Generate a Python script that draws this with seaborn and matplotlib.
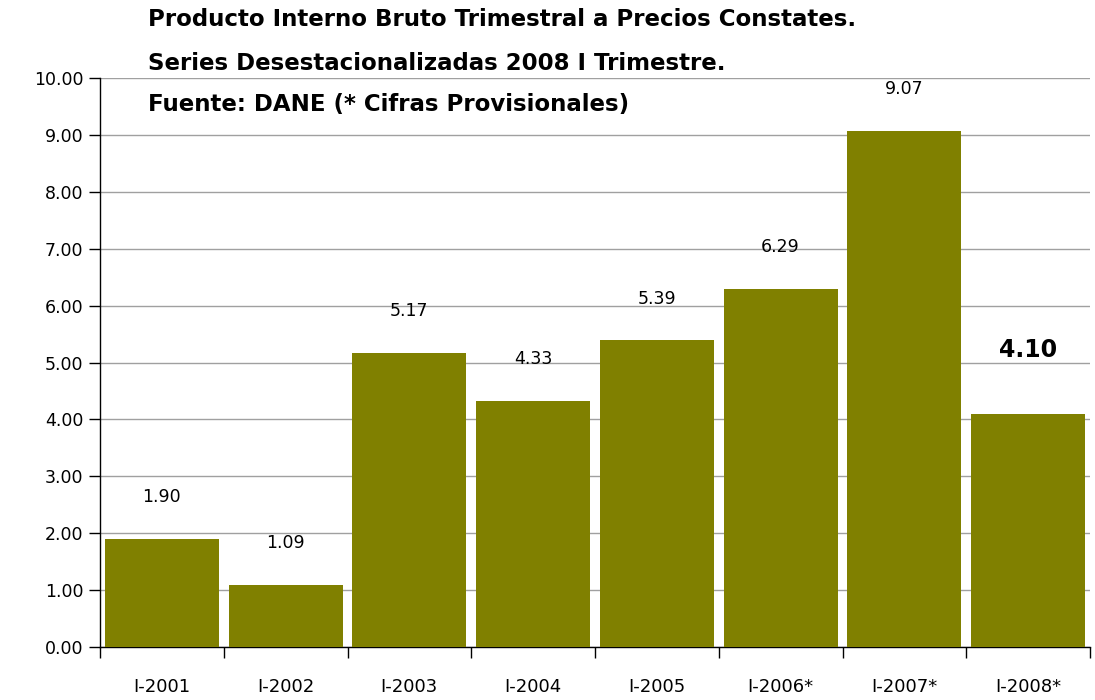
import matplotlib
matplotlib.use("Agg")
import matplotlib.pyplot as plt
import seaborn as sns
import pandas as pd
import numpy as np

categories = ["I-2001", "I-2002", "I-2003", "I-2004", "I-2005", "I-2006*", "I-2007*", "I-2008*"]
values = [1.90, 1.09, 5.17, 4.33, 5.39, 6.29, 9.07, 4.10]
title_lines = [
    "Producto Interno Bruto Trimestral a Precios Constates.",
    "Series Desestacionalizadas 2008 I Trimestre.",
    "Fuente: DANE (* Cifras Provisionales)",
]

sns.set_style("white", {"xtick.bottom": True, "ytick.left": True})
plt.rcParams['font.family'] = ['DejaVu Sans']
plt.rcParams['text.color'] = 'black'
plt.rcParams['xtick.color'] = 'black'
plt.rcParams['ytick.color'] = 'black'

df = pd.DataFrame({"cat": categories, "val": values})

fig = plt.figure(figsize=(10.95, 7.0), dpi=100)
ax = fig.add_axes([100/1095, 1 - 647/700, 990/1095, (647-78)/700])

sns.barplot(data=df, x="cat", y="val", color="#808000", saturation=1, width=0.92,
            linewidth=0, ax=ax, zorder=3)

ax.set_ylim(0, 10)
ax.set_xlim(-0.5, len(categories) - 0.5)
ax.set_yticks(np.arange(0, 11, 1))
ax.set_yticklabels([f"{v:.2f}" for v in np.arange(0, 11, 1)], fontsize=12.5)
ax.yaxis.grid(True, color="#a0a0a0", linewidth=1, zorder=0)
ax.set_axisbelow(True)

ax.set_xticks(range(len(categories)))
ax.set_xticklabels(categories, fontsize=13)
ax.tick_params(axis="x", which="major", length=0, pad=22)
ax.set_xticks(np.arange(-0.5, len(categories), 1), minor=True)
ax.tick_params(axis="x", which="minor", bottom=True, length=8, width=1, color="black", direction="out")
ax.tick_params(axis="y", left=True, length=8, width=1, color="black", direction="out", pad=4)

for s in ["top", "right"]:
    ax.spines[s].set_visible(False)
for s in ["left", "bottom"]:
    ax.spines[s].set_color("black")
    ax.spines[s].set_linewidth(1)

ax.set_xlabel("")
ax.set_ylabel("")

for i, v in enumerate(values):
    if i == len(values) - 1:
        ax.annotate(f"{v:.2f}", (i, v), xytext=(0, 46), textcoords="offset points",
                    ha="center", va="center", fontsize=17, fontweight="bold")
    else:
        ax.annotate(f"{v:.2f}", (i, v), xytext=(0, 30), textcoords="offset points",
                    ha="center", va="center", fontsize=12.5)

for k, (line, ypx) in enumerate(zip(title_lines, [20, 63, 105])):
    fig.text(148/1095, 1 - ypx/700, line, fontsize=16.5, fontweight="bold",
             family=["DejaVu Sans"], ha="left", va="center")

fig.savefig("out.png", dpi=100)
